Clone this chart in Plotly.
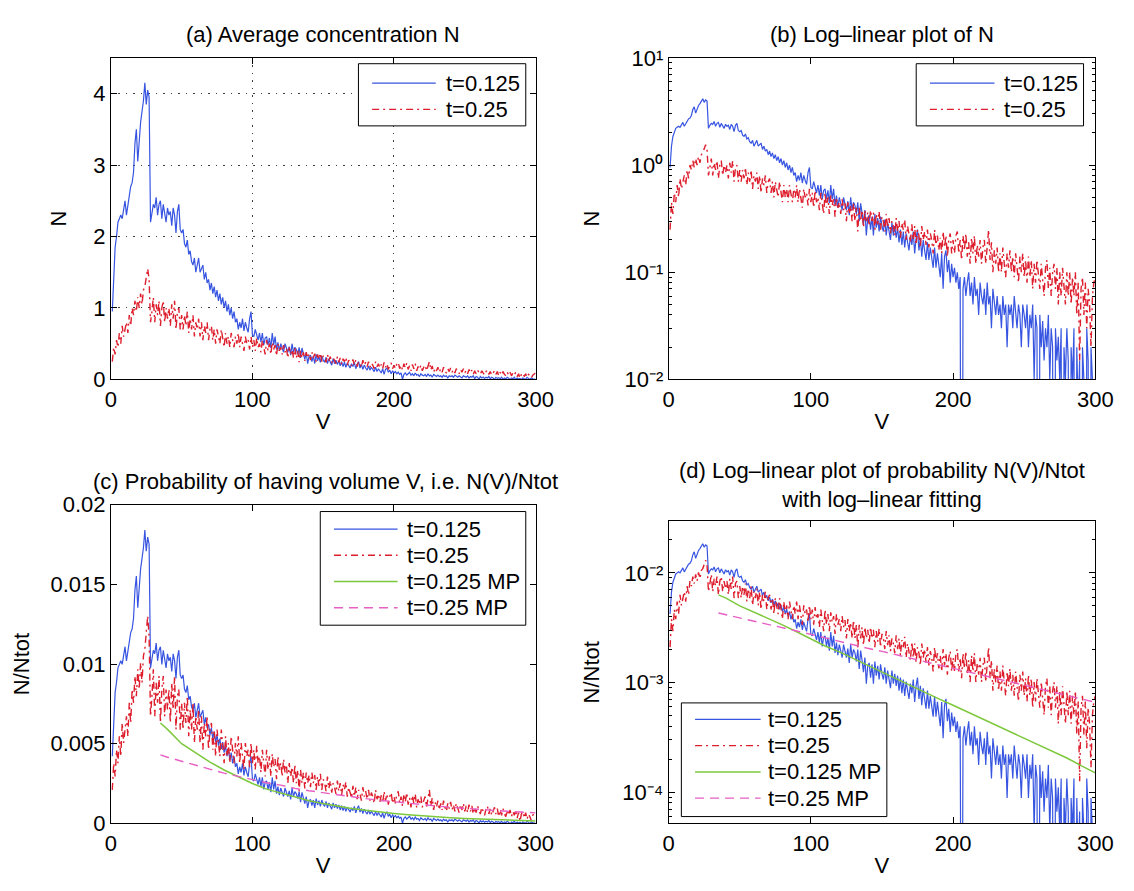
import math
import plotly.graph_objects as go

# ---------------- data ----------------
V = list(range(1, 301))

# average concentration N, t = 0.125
N_t0125 = [
    0.95, 1.5, 1.85, 2.0, 2.2, 2.25, 2.3, 2.25, 2.35, 2.5,
    2.3, 2.45, 2.6, 2.7, 2.75, 2.9, 3.3, 3.5, 3.05, 3.4,
    3.6, 3.75, 3.9, 4.15, 3.85, 4.05, 3.95, 2.2, 2.35, 2.45,
    2.4, 2.55, 2.3, 2.45, 2.5, 2.25, 2.45, 2.35, 2.2, 2.4,
    2.3, 2.35, 2.15, 2.4, 2.3, 2.05, 2.35, 2.45, 2.1, 2.05,
    2.1, 1.9, 1.85, 1.95, 1.75, 1.8, 1.65, 1.6, 1.7, 1.5,
    1.6, 1.7, 1.5, 1.55, 1.6, 1.4, 1.5, 1.35, 1.4, 1.25,
    1.35, 1.2, 1.3, 1.15, 1.25, 1.1, 1.2, 1.05, 1.15, 1.0,
    1.1, 0.95, 1.05, 0.9, 1.0, 0.85, 0.95, 0.8, 0.85, 0.7,
    0.8, 0.72, 0.85, 0.68, 0.8, 0.72, 0.66, 0.85, 0.95, 0.62,
    0.6, 0.7, 0.62, 0.55, 0.65, 0.52, 0.65, 0.48, 0.58, 0.6,
    0.48, 0.58, 0.44, 0.65, 0.48, 0.6, 0.42, 0.52, 0.4, 0.5,
    0.44, 0.38, 0.5, 0.42, 0.38, 0.46, 0.34, 0.5, 0.38, 0.45,
    0.42, 0.35, 0.45, 0.3, 0.44, 0.36, 0.28, 0.38, 0.22, 0.32,
    0.34, 0.25, 0.33, 0.22, 0.35, 0.26, 0.32, 0.24, 0.33, 0.27,
    0.24, 0.31, 0.22, 0.29, 0.25, 0.2, 0.29, 0.22, 0.27, 0.21,
    0.26, 0.19, 0.25, 0.18, 0.24, 0.17, 0.23, 0.19, 0.16, 0.22,
    0.18, 0.24, 0.15, 0.21, 0.25, 0.16, 0.21, 0.14, 0.2, 0.16,
    0.13, 0.19, 0.13, 0.17, 0.14, 0.11, 0.17, 0.11, 0.15, 0.12,
    0.09, 0.15, 0.07, 0.14, 0.16, 0.1, 0.13, 0.08, 0.12, 0.09,
    0.11, 0.08, 0.1, 0.07, 0.09, 0.0, 0.07, 0.09, 0.06, 0.08,
    0.1, 0.06, 0.08, 0.05, 0.09, 0.06, 0.07, 0.04, 0.08, 0.06,
    0.05, 0.07, 0.04, 0.08, 0.05, 0.06, 0.03, 0.07, 0.05, 0.04,
    0.06, 0.04, 0.05, 0.03, 0.06, 0.04, 0.05, 0.02, 0.05, 0.04,
    0.05, 0.03, 0.06, 0.04, 0.03, 0.05, 0.04, 0.02, 0.05, 0.04,
    0.03, 0.05, 0.02, 0.04, 0.03, 0.05, 0.01, 0.04, 0.03, 0.0,
    0.04, 0.02, 0.035, 0.015, 0.03, 0.02, 0.04, 0.01, 0.03, 0.02,
    0.0, 0.03, 0.015, 0.025, 0.01, 0.03, 0.0, 0.02, 0.01, 0.03,
    0.015, 0.0, 0.02, 0.01, 0.03, 0.0, 0.02, 0.005, 0.015, 0.0,
    0.02, 0.01, 0.0, 0.03, 0.015, 0.0, 0.02, 0.01, 0.0, 0.01,
]

# average concentration N, t = 0.25
N_t025 = [
    0.25, 0.45, 0.35, 0.55, 0.45, 0.65, 0.5, 0.75, 0.6, 0.7,
    0.8, 0.65, 0.9, 0.75, 1.0, 0.9, 1.1, 0.95, 1.15, 1.0,
    1.2, 1.05, 1.25, 1.3, 1.45, 1.55, 1.4, 0.8, 0.95, 1.15,
    0.8, 1.05, 0.9, 1.1, 0.75, 1.0, 1.1, 0.8, 1.0, 0.85,
    1.0, 0.75, 1.05, 0.85, 1.1, 0.7, 0.95, 1.0, 0.7, 0.9,
    0.7, 0.9, 0.75, 0.95, 0.65, 0.85, 0.7, 0.9, 0.6, 0.8,
    0.7, 0.85, 0.6, 0.8, 0.55, 0.75, 0.65, 0.8, 0.55, 0.7,
    0.75, 0.55, 0.7, 0.5, 0.7, 0.6, 0.5, 0.7, 0.55, 0.45,
    0.65, 0.5, 0.6, 0.45, 0.65, 0.55, 0.45, 0.6, 0.5, 0.65,
    0.45, 0.6, 0.5, 0.4, 0.6, 0.5, 0.55, 0.42, 0.6, 0.45,
    0.55, 0.4, 0.58, 0.45, 0.5, 0.38, 0.55, 0.45, 0.35, 0.55,
    0.4, 0.5, 0.35, 0.52, 0.42, 0.48, 0.33, 0.5, 0.4, 0.45,
    0.35, 0.48, 0.38, 0.44, 0.3, 0.45, 0.35, 0.42, 0.3, 0.44,
    0.3, 0.4, 0.24, 0.4, 0.3, 0.38, 0.26, 0.38, 0.3, 0.36,
    0.27, 0.38, 0.3, 0.36, 0.25, 0.35, 0.28, 0.37, 0.25, 0.33,
    0.3, 0.24, 0.35, 0.26, 0.32, 0.23, 0.3, 0.27, 0.22, 0.32,
    0.24, 0.3, 0.21, 0.29, 0.25, 0.31, 0.2, 0.27, 0.23, 0.19,
    0.28, 0.2, 0.27, 0.18, 0.25, 0.22, 0.17, 0.27, 0.2, 0.24,
    0.18, 0.25, 0.17, 0.23, 0.2, 0.15, 0.25, 0.18, 0.22, 0.16,
    0.21, 0.15, 0.24, 0.17, 0.22, 0.14, 0.2, 0.23, 0.15, 0.2,
    0.15, 0.22, 0.24, 0.15, 0.2, 0.13, 0.22, 0.16, 0.23, 0.14,
    0.19, 0.12, 0.21, 0.15, 0.22, 0.12, 0.18, 0.14, 0.2, 0.12,
    0.17, 0.2, 0.12, 0.18, 0.25, 0.13, 0.19, 0.1, 0.16, 0.12,
    0.17, 0.1, 0.15, 0.1, 0.17, 0.12, 0.09, 0.15, 0.11, 0.16,
    0.1, 0.14, 0.09, 0.15, 0.11, 0.08, 0.14, 0.1, 0.15, 0.09,
    0.13, 0.08, 0.14, 0.09, 0.13, 0.07, 0.12, 0.08, 0.13, 0.09,
    0.07, 0.12, 0.08, 0.06, 0.11, 0.13, 0.07, 0.11, 0.06, 0.1,
    0.12, 0.07, 0.11, 0.05, 0.1, 0.06, 0.11, 0.07, 0.05, 0.1,
    0.06, 0.1, 0.05, 0.09, 0.06, 0.1, 0.04, 0.08, 0.015, 0.07,
    0.09, 0.04, 0.08, 0.03, 0.07, 0.05, 0.02, 0.06, 0.08, 0.09,
]

# log-linear fitted ("MP") curves, read every 10 in V
MP_V = [35, 40, 50, 60, 70, 80, 90, 100, 110, 120, 130, 140, 150, 160,
        170, 180, 190, 200, 210, 220, 230, 240, 250, 260, 270, 280, 290, 300]
MP_t0125 = [6.3e-3, 5.9e-3, 5.0e-3, 4.4e-3, 3.85e-3, 3.35e-3, 2.9e-3,
            2.5e-3, 2.15e-3, 1.9e-3, 1.65e-3, 1.42e-3, 1.24e-3, 1.08e-3,
            9.4e-4, 8.2e-4, 7.1e-4, 6.2e-4, 5.4e-4, 4.7e-4, 4.1e-4,
            3.55e-4, 3.1e-4, 2.7e-4, 2.35e-4, 2.05e-4, 1.75e-4, 1.5e-4]
MP_t025 = [4.3e-3, 4.15e-3, 3.9e-3, 3.65e-3, 3.4e-3, 3.15e-3, 2.95e-3,
           2.75e-3, 2.55e-3, 2.4e-3, 2.2e-3, 2.05e-3, 1.92e-3, 1.8e-3,
           1.67e-3, 1.55e-3, 1.45e-3, 1.35e-3, 1.26e-3, 1.17e-3, 1.09e-3,
           1.01e-3, 9.4e-4, 8.8e-4, 8.2e-4, 7.6e-4, 7.1e-4, 6.6e-4]

# probability N(V)/Ntot
NTOT_t0125 = sum(N_t0125)
NTOT_t025 = sum(N_t025)
P_t0125 = [n / NTOT_t0125 for n in N_t0125]
P_t025 = [n / NTOT_t025 for n in N_t025]

LOG_FLOOR = 1e-7  # zero values are drawn below the visible log range


def floor_log(vals):
    return [max(v, LOG_FLOOR) for v in vals]


# ---------------- page geometry ----------------
# the page body has an 8px default margin; layout positions below are
# given in window pixels and converted here.
WIN_W, WIN_H = 1134, 891
OFF = 8
W, H = WIN_W - 2 * OFF, WIN_H - 2 * OFF


def fx(x):
    return (x - OFF) / W


def fy(y):
    return 1 - (y - OFF) / H


FONT = "Liberation Sans, Arial, Helvetica, sans-serif"
FS = 22
BLUE = "rgb(55,85,225)"
RED = "rgb(222,30,45)"
GREEN = "rgb(125,200,60)"
PINK = "rgb(232,95,195)"
RED_DASH = "7px,4px,2px,4px"
PINK_DASH = "9px,6px"

fig = go.Figure()


def line(xs, ys, name, color, dash, width, xa, ya):
    fig.add_trace(go.Scatter(
        x=xs, y=ys, mode="lines", name=name,
        line=dict(color=color, width=width, dash=dash),
        xaxis=xa, yaxis=ya, showlegend=False, hoverinfo="skip"))


# (a)
line(V, N_t0125, "t=0.125", BLUE, "solid", 1.2, "x", "y")
line(V, N_t025, "t=0.25", RED, RED_DASH, 1.4, "x", "y")
# (b)
line(V, floor_log(N_t0125), "t=0.125", BLUE, "solid", 1.2, "x2", "y2")
line(V, floor_log(N_t025), "t=0.25", RED, RED_DASH, 1.4, "x2", "y2")
# (c)
line(V, P_t0125, "t=0.125", BLUE, "solid", 1.2, "x3", "y3")
line(V, P_t025, "t=0.25", RED, RED_DASH, 1.4, "x3", "y3")
line(MP_V, MP_t0125, "t=0.125 MP", GREEN, "solid", 1.5, "x3", "y3")
line(MP_V, MP_t025, "t=0.25 MP", PINK, PINK_DASH, 1.4, "x3", "y3")
# (d)
line(V, floor_log(P_t0125), "t=0.125", BLUE, "solid", 1.2, "x4", "y4")
line(V, floor_log(P_t025), "t=0.25", RED, RED_DASH, 1.4, "x4", "y4")
line(MP_V, MP_t0125, "t=0.125 MP", GREEN, "solid", 1.5, "x4", "y4")
line(MP_V, MP_t025, "t=0.25 MP", PINK, PINK_DASH, 1.4, "x4", "y4")


def axis(domain, anchor, **kw):
    d = dict(domain=domain, anchor=anchor, showline=True, linecolor="black",
             linewidth=1, mirror="ticks", ticks="inside", ticklen=6,
             tickwidth=1, tickcolor="black",
             tickfont=dict(family=FONT, size=FS, color="black"),
             showgrid=False, zeroline=False, fixedrange=True)
    d.update(kw)
    return d


def xtitle(standoff=2):
    return dict(text="V", font=dict(family=FONT, size=FS, color="black"),
                standoff=standoff)


def ytitle(text, standoff=12):
    return dict(text=text, font=dict(family=FONT, size=FS, color="black"),
                standoff=standoff)


X_TICKS = [0, 100, 200, 300]
GRID = dict(showgrid=True, gridcolor="rgba(40,40,40,0.9)", gridwidth=1,
            griddash="1.5px,6px")


def decade_minor(lo, hi, vmin, vmax):
    return [m * 10 ** e for e in range(lo, hi) for m in range(2, 10)
            if vmin < m * 10 ** e < vmax]


LEFT = [fx(107), fx(541)]
RIGHT = [fx(677), fx(1113)]
TOP = [fy(378), fy(47)]
D_LO, D_HI = 5.2e-5, 2.95e-2

fig.update_layout(
    xaxis=axis(LEFT, "y", range=[0, 300], tickvals=X_TICKS,
               title=xtitle(), **GRID),
    yaxis=axis(TOP, "x", range=[0, 4.5], tickvals=[0, 1, 2, 3, 4],
               title=ytitle("N", 20), **GRID),
    xaxis2=axis(RIGHT, "y2", range=[0, 300], tickvals=X_TICKS,
                title=xtitle()),
    yaxis2=axis(TOP, "x2", type="log", range=[-2, 1],
                tickvals=[0.01, 0.1, 1, 10],
                ticktext=["10\u207b\u00b2", "10\u207b\u00b9",
                          "10\u2070", "10\u00b9"],
                minor=dict(tickvals=decade_minor(-2, 1, 0.01, 10),
                           ticks="inside", ticklen=3, tickcolor="black"),
                title=ytitle("N", 18)),
    xaxis3=axis(LEFT, "y3", range=[0, 300], tickvals=X_TICKS,
                title=xtitle()),
    yaxis3=axis([fy(835), fy(507)], "x3", range=[0, 0.02],
                tickvals=[0, 0.005, 0.01, 0.015, 0.02],
                ticktext=["0", "0.005", "0.01", "0.015", "0.02"],
                title=ytitle("N/Ntot", 14)),
    xaxis4=axis(RIGHT, "y4", range=[0, 300], tickvals=X_TICKS,
                title=xtitle()),
    yaxis4=axis([fy(835), fy(524)], "x4", type="log",
                range=[math.log10(D_LO), math.log10(D_HI)],
                tickvals=[1e-4, 1e-3, 1e-2],
                ticktext=["10\u207b\u2074", "10\u207b\u00b3",
                          "10\u207b\u00b2"],
                minor=dict(tickvals=decade_minor(-5, -1, D_LO, D_HI),
                           ticks="inside", ticklen=3, tickcolor="black"),
                title=ytitle("N/Ntot", 16)),
    width=W, height=H,
    margin=dict(l=0, r=0, t=0, b=0),
    paper_bgcolor="white", plot_bgcolor="white",
    font=dict(family=FONT, size=FS, color="black"),
    showlegend=False,
)

# ---------------- panel titles ----------------
TITLES = [
    ("(a) Average concentration N", 324, 23),
    ("(b) Log\u2013linear plot of N", 895, 23),
    ("(c) Probability of having volume V, i.e. N(V)/Ntot", 326, 483),
    ("(d) Log\u2013linear plot of probability N(V)/Ntot<br>"
     "with log\u2013linear fitting", 895, 487),
]
for text, x, y in TITLES:
    fig.add_annotation(text=text, x=fx(x), y=fy(y), xref="paper",
                       yref="paper", xanchor="center", yanchor="middle",
                       showarrow=False,
                       font=dict(family=FONT, size=FS, color="black"))

# ---------------- legends (boxes with line samples) ----------------
LEGENDS = [
    # box (x0, x1, y0, y1), sample (x0, x1), text x, rows
    ((360, 531, 53, 117), (374, 439), 447,
     [(73, "t=0.125", BLUE, "solid", 1.2), (100, "t=0.25", RED, RED_DASH, 1.4)]),
    ((930, 1101, 53, 117), (944, 1010), 1018,
     [(73, "t=0.125", BLUE, "solid", 1.2), (100, "t=0.25", RED, RED_DASH, 1.4)]),
    ((321, 531, 514, 631), (335, 400), 408,
     [(532, "t=0.125", BLUE, "solid", 1.2), (559, "t=0.25", RED, RED_DASH, 1.4),
      (586, "t=0.125 MP", GREEN, "solid", 1.5),
      (613, "t=0.25 MP", PINK, PINK_DASH, 1.4)]),
    ((690, 900, 711, 828), (704, 771), 776,
     [(728, "t=0.125", BLUE, "solid", 1.2), (755, "t=0.25", RED, RED_DASH, 1.4),
      (782, "t=0.125 MP", GREEN, "solid", 1.5),
      (809, "t=0.25 MP", PINK, PINK_DASH, 1.4)]),
]
for (bx0, bx1, by0, by1), (sx0, sx1), tx, rows in LEGENDS:
    fig.add_shape(type="rect", xref="paper", yref="paper",
                  x0=fx(bx0), x1=fx(bx1), y0=fy(by1), y1=fy(by0),
                  line=dict(color="black", width=1), fillcolor="white",
                  layer="above")
    for ry, label, color, dash, width in rows:
        fig.add_shape(type="line", xref="paper", yref="paper",
                      x0=fx(sx0), x1=fx(sx1), y0=fy(ry), y1=fy(ry),
                      line=dict(color=color, width=width, dash=dash),
                      layer="above")
        fig.add_annotation(text=label, x=fx(tx), y=fy(ry), xref="paper",
                           yref="paper", xanchor="left", yanchor="middle",
                           showarrow=False,
                           font=dict(family=FONT, size=FS, color="black"))

fig.write_html("out.html")
